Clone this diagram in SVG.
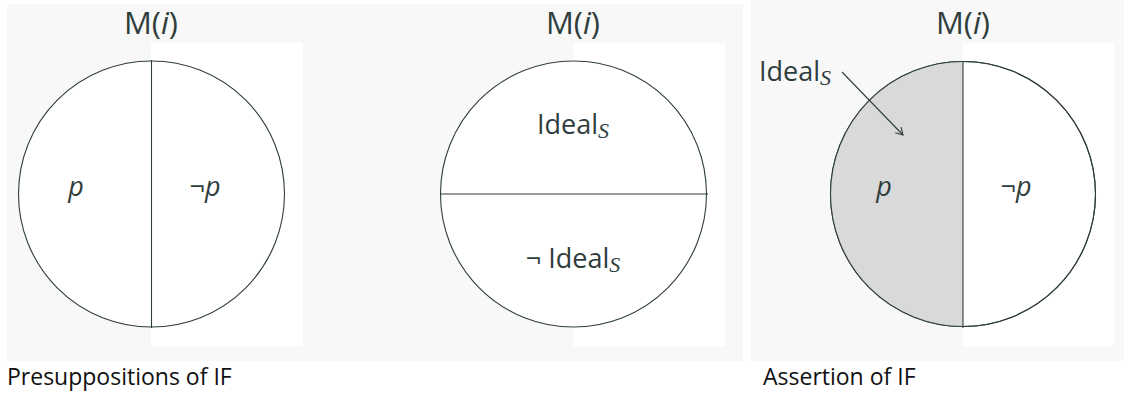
<svg xmlns="http://www.w3.org/2000/svg" width="1124" height="394" viewBox="0 0 1124 394">
<style>
.bg{fill:#f8f8f8}
.wh{fill:#ffffff}
.ln{stroke:#2f3d3d;stroke-width:1.1;fill:none}
.t{font-family:"Open Sans","DejaVu Sans",sans-serif;fill:#2f3d3d;font-size:27px}
.m{font-size:31px}
.it{font-style:italic}
.sc{font-family:"Liberation Serif",serif;font-style:italic;font-size:22px}
.cap{font-family:"Open Sans","Liberation Sans",sans-serif;fill:#111;font-size:23px}
</style>
<defs>
<marker id="ah" markerWidth="10" markerHeight="10" refX="8" refY="5" orient="auto" markerUnits="userSpaceOnUse">
<path d="M1,1 L8,5 L1,9" fill="none" stroke="#2f3d3d" stroke-width="1.1"/>
</marker>
</defs>
<rect class="bg" x="7" y="4" width="736" height="357"/>
<rect class="bg" x="751" y="0" width="373" height="361"/>
<rect class="wh" x="151" y="43" width="152" height="303"/>
<rect class="wh" x="573" y="43" width="152" height="303"/>
<rect class="wh" x="963" y="43" width="151" height="303"/>

<g id="panel1">
<circle class="ln" cx="151.5" cy="194" r="133" style="fill:#fff"/>
<line class="ln" x1="151.5" y1="60" x2="151.5" y2="328"/>
<text class="t m" x="151" y="34" text-anchor="middle">M(<tspan class="it">i</tspan>)</text>
<text class="t it" x="76" y="196" text-anchor="middle">p</text>
<text class="t" x="205" y="196" text-anchor="middle">¬<tspan class="it">p</tspan></text>
</g>

<g id="panel2">
<circle class="ln" cx="573.5" cy="194" r="133" style="fill:#fff"/>
<line class="ln" x1="440" y1="194" x2="708" y2="194"/>
<text class="t m" x="573" y="34" text-anchor="middle">M(<tspan class="it">i</tspan>)</text>
<text class="t" x="573" y="134" text-anchor="middle">Ideal<tspan class="sc" dy="4">S</tspan></text>
<text class="t" x="573" y="268" text-anchor="middle">¬ Ideal<tspan class="sc" dy="4">S</tspan></text>
</g>

<g id="panel3">
<circle class="ln" cx="963" cy="194" r="132.5" style="fill:#fff"/>
<path d="M963,61.5 A132.5,132.5 0 0 0 963,326.5 Z" fill="#d9d9d9"/>
<circle class="ln" cx="963" cy="194" r="132.5"/>
<line class="ln" x1="963" y1="61" x2="963" y2="328"/>
<text class="t m" x="963" y="34" text-anchor="middle">M(<tspan class="it">i</tspan>)</text>
<text class="t" x="759" y="81">Ideal<tspan class="sc" dy="4">S</tspan></text>
<text class="t it" x="884" y="196" text-anchor="middle">p</text>
<text class="t" x="1016" y="196" text-anchor="middle">¬<tspan class="it">p</tspan></text>
</g>

<g id="connectors">
<line class="ln" x1="842" y1="72" x2="903" y2="135" marker-end="url(#ah)"/>
</g>

<text class="cap" x="7" y="385">Presuppositions of IF</text>
<text class="cap" x="763" y="385">Assertion of IF</text>
</svg>
